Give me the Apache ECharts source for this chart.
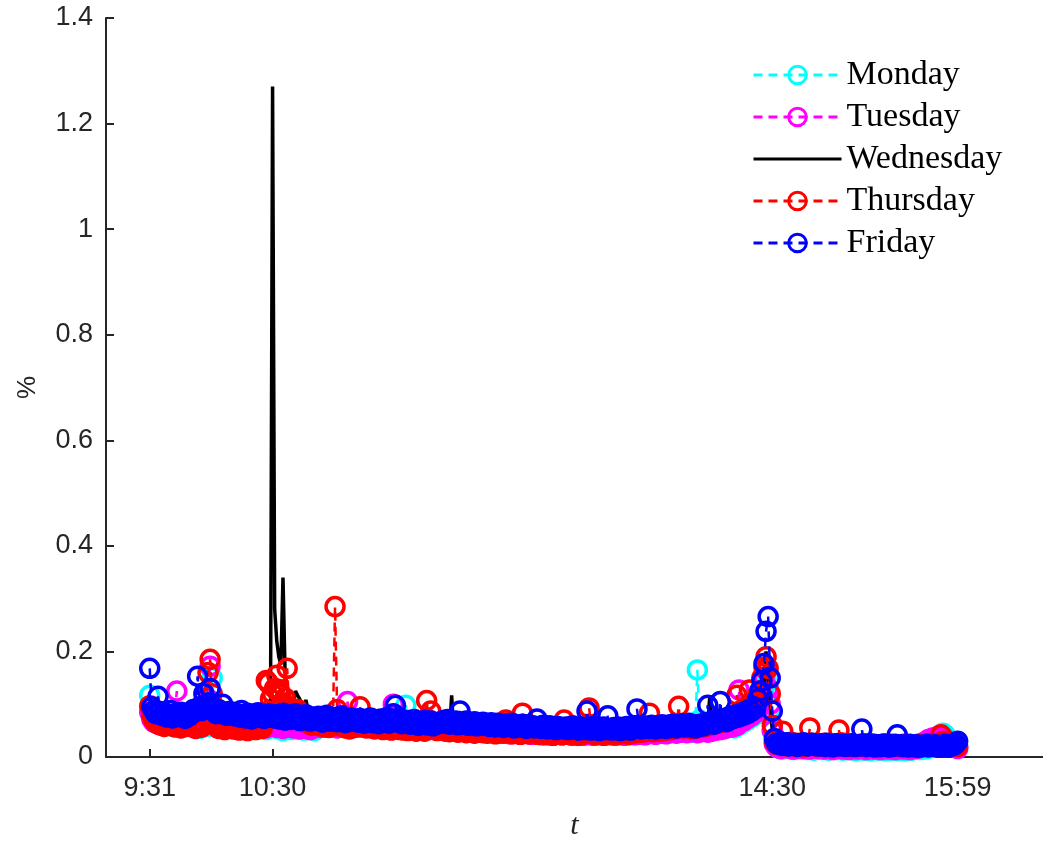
<!DOCTYPE html>
<html>
<head>
<meta charset="utf-8">
<script src="https://cdn.jsdelivr.net/npm/echarts@6/dist/echarts.min.js"></script>
<style>
  html, body { margin: 0; padding: 0; background: #fff; }
  #chart { width: 1043px; height: 846px; }
</style>
</head>
<body>
<div id="chart"></div>
<script>
// one value per minute, 9:31 .. 15:59 (389 points), in units of 0.001 %
const monday = [
  117,80,72,66,70,63,68,74,60,65,71,58,64,69,61,56,66,62,70,59,
  63,57,67,60,54,65,61,69,58,64,150,72,62,57,66,60,55,63,59,67,
  61,56,64,58,53,62,57,65,60,54,63,59,55,61,57,64,52,60,56,62,
  58,54,61,56,50,59,63,55,52,60,57,53,61,56,51,58,54,62,55,50,
  65,61,68,63,57,66,62,59,67,64,60,56,65,61,68,63,58,62,66,59,
  63,57,61,65,58,62,56,64,60,55,63,59,66,61,57,62,58,64,60,56,
  61,58,63,98,70,59,55,61,57,63,58,54,60,56,62,57,53,59,55,61,
  56,52,58,54,60,55,51,57,53,59,54,50,56,52,58,53,49,55,51,57,
  52,48,54,50,56,51,47,53,49,55,50,46,52,48,54,49,45,51,47,53,
  49,45,51,47,53,48,44,50,46,52,47,44,49,45,51,46,44,48,45,50,
  46,44,49,45,51,46,44,48,45,50,45,43,47,44,49,45,43,47,44,48,
  45,43,47,44,49,45,43,48,44,50,46,44,49,45,51,47,44,50,46,52,
  48,45,51,47,53,49,46,52,48,54,50,47,53,49,55,51,48,54,50,56,
  50,47,53,165,70,54,51,57,53,59,55,52,57,53,58,55,53,59,56,62,
  57,55,63,60,68,65,72,70,78,75,82,80,88,95,105,130,150,120,90,50,
  25,20,17,22,15,19,21,16,18,14,20,17,15,19,16,21,14,18,16,13,
  17,15,19,14,18,16,13,17,15,19,14,16,18,13,17,15,14,18,16,12,
  16,14,18,13,17,15,12,16,14,18,13,15,17,12,16,14,13,17,15,12,
  15,13,17,12,16,14,13,17,15,18,14,16,19,15,21,18,24,20,28,32,
  38,45,42,36,30,26,22,20,18
];
const tuesday = [
  85,72,66,74,62,69,64,71,60,67,63,70,82,125,76,65,61,68,58,66,
  62,70,59,67,63,57,65,72,110,172,90,64,60,68,56,63,59,66,61,55,
  64,60,67,57,63,59,66,54,62,58,65,61,56,63,59,68,55,62,58,64,
  60,56,63,58,54,61,57,65,59,55,62,58,53,60,56,63,57,52,59,55,
  65,60,56,63,59,66,61,57,64,60,55,62,58,65,61,105,70,59,56,62,
  60,65,57,62,58,64,59,55,61,57,63,58,54,60,56,62,76,100,66,59,
  56,62,58,54,60,56,63,57,53,59,55,61,56,52,58,54,60,55,51,57,
  53,59,54,50,56,52,58,53,49,55,51,57,52,48,54,50,56,51,47,53,
  49,55,50,46,52,48,54,49,45,51,47,53,48,44,50,46,52,47,43,49,
  46,51,47,43,49,45,50,46,42,48,44,50,45,41,47,43,49,44,42,46,
  43,48,44,41,46,42,47,43,41,45,42,47,43,41,44,42,46,43,41,44,
  42,46,43,41,45,42,47,43,41,46,42,48,44,42,47,43,49,45,42,48,
  45,50,46,43,49,45,51,47,44,50,46,52,48,45,51,47,53,49,46,52,
  48,53,49,46,52,48,54,50,47,53,49,55,51,56,52,58,54,60,56,62,
  57,64,60,127,72,68,76,73,81,78,86,84,92,98,110,150,165,130,100,50,
  25,19,22,16,20,18,23,17,21,15,19,22,17,20,16,18,21,15,19,17,
  20,16,18,22,15,19,17,21,14,18,20,16,19,15,17,21,14,18,16,20,
  15,19,17,21,14,18,16,20,15,17,19,14,18,16,20,15,17,19,14,18,
  16,20,15,17,19,14,18,16,21,17,24,20,28,25,33,30,36,32,38,40,
  34,38,30,27,24,22,20,18,16
];
const wednesday = [
  72,68,75,70,66,73,69,64,71,67,74,65,70,68,63,72,66,69,64,71,
  67,62,70,65,73,68,63,71,66,69,64,72,67,61,68,65,70,63,67,62,
  69,64,66,61,68,63,70,65,62,67,64,69,61,66,63,68,64,62,70,1270,
  280,220,190,175,340,160,130,115,105,98,125,117,110,102,95,108,90,86,93,82,
  88,79,84,76,81,74,79,72,77,70,75,68,73,66,71,64,69,62,67,65,
  63,68,61,66,60,64,58,63,57,62,56,61,55,60,54,59,53,58,55,57,
  54,59,52,57,51,56,50,55,49,54,48,53,50,52,47,51,49,53,48,50,
  52,47,51,46,50,117,48,45,49,44,48,46,43,47,45,49,44,46,42,45,
  47,43,46,41,45,42,46,40,44,41,45,39,43,40,44,38,42,39,43,40,
  42,38,41,37,42,39,43,38,40,36,41,38,42,37,40,36,39,37,41,38,
  40,36,39,35,40,37,41,36,39,35,38,36,40,35,39,37,41,36,38,40,
  37,41,38,42,39,43,40,44,41,45,42,46,43,47,44,48,45,49,46,50,
  47,51,48,52,49,53,50,54,51,55,52,56,53,57,54,58,55,59,56,60,
  57,61,58,62,59,63,60,64,61,117,66,62,67,63,68,65,70,67,72,69,
  74,71,76,73,78,75,80,77,83,80,86,84,90,95,105,130,200,150,100,50,
  22,18,20,17,21,19,16,20,18,22,17,19,21,16,20,18,15,19,17,21,
  18,16,20,17,15,19,17,21,16,18,20,15,19,17,16,20,18,15,19,17,
  16,20,18,15,19,17,21,16,18,15,19,17,20,16,18,15,19,17,16,20,
  17,15,19,16,18,20,17,15,19,16,18,21,17,19,16,20,18,22,19,21,
  18,20,17,22,19,21,18,20,23
];
const thursday = [
  97,78,70,65,73,61,68,58,66,72,60,64,57,69,62,55,67,59,63,71,
  58,65,54,62,68,57,63,75,160,185,120,66,59,54,63,57,52,61,56,64,
  53,60,55,51,58,54,62,50,57,53,59,52,56,61,54,65,145,140,110,120,
  130,155,128,118,100,112,168,95,82,88,76,90,72,80,68,75,64,71,60,67,
  61,68,59,65,57,63,56,61,70,285,90,65,58,62,55,60,53,59,56,63,
  57,95,64,58,55,61,56,59,53,60,55,58,52,57,54,59,51,56,53,58,
  52,56,51,55,50,57,52,54,49,56,51,54,49,107,70,87,58,53,50,55,
  51,54,49,53,48,52,50,54,47,51,49,53,46,50,48,52,45,49,47,51,
  46,50,45,49,47,51,44,48,46,50,45,70,52,47,44,49,46,50,43,83,
  56,48,44,49,46,50,43,47,45,49,42,46,44,48,41,45,43,47,42,70,
  50,44,42,46,43,47,41,45,43,46,49,93,61,44,42,46,43,47,41,45,
  43,47,44,48,42,46,44,49,45,47,43,48,45,50,46,49,47,51,48,52,
  83,52,48,53,49,54,50,55,51,56,52,57,53,58,96,59,55,60,57,62,
  53,58,54,60,56,61,57,63,59,65,61,67,63,69,65,71,68,74,70,77,
  73,80,117,84,88,85,92,96,127,100,95,104,112,125,150,170,190,168,120,60,
  30,24,27,22,49,26,21,25,28,23,20,26,22,25,19,24,21,55,26,22,
  25,20,24,21,26,19,23,22,25,20,24,51,27,21,25,20,23,19,24,22,
  20,24,21,25,19,23,22,20,24,21,18,23,20,25,22,19,24,21,23,20,
  22,19,24,21,20,23,18,22,20,24,21,19,23,20,22,25,21,24,22,26,
  42,30,27,24,22,25,21,23,20
];
const friday = [
  168,95,88,82,115,86,79,84,76,81,88,74,79,83,77,85,80,73,82,78,
  84,90,86,153,95,88,120,92,103,130,96,87,82,90,85,100,83,79,86,81,
  85,78,82,76,88,80,74,83,79,72,81,77,84,75,80,73,78,82,76,79,
  74,80,72,77,83,70,76,79,71,75,82,73,69,77,74,80,71,68,76,73,
  70,77,72,66,74,79,71,68,75,72,67,73,78,70,65,72,69,74,68,71,
  66,73,69,64,71,67,74,65,70,68,63,72,66,69,75,64,70,82,98,72,
  67,63,70,65,68,62,66,71,64,60,67,63,69,61,65,68,59,64,62,66,
  64,69,65,71,62,67,64,68,61,87,66,63,68,60,65,62,67,59,64,61,
  66,60,63,58,65,61,57,64,59,62,56,63,60,58,64,55,61,59,57,62,
  58,54,61,57,59,55,72,58,54,60,56,53,59,55,57,52,58,54,56,53,
  57,52,55,59,53,56,51,57,54,52,87,55,51,58,53,56,50,54,57,52,
  78,54,51,56,53,57,50,55,52,58,54,51,56,59,91,57,53,59,55,58,
  54,60,56,53,59,55,61,57,54,60,56,62,58,55,61,59,63,57,60,64,
  57,61,55,60,58,63,59,65,98,64,68,62,70,66,105,69,73,67,75,71,
  77,74,80,76,83,79,86,82,90,87,95,92,110,125,144,177,238,266,150,87,
  35,26,24,28,22,25,27,21,24,26,23,20,25,22,27,24,21,23,26,22,
  24,21,25,23,20,26,22,24,19,23,25,21,22,24,20,23,21,25,22,20,
  23,21,53,24,20,22,25,21,19,23,22,20,24,21,23,19,22,20,24,42,
  21,23,20,22,19,24,21,20,23,18,22,20,21,24,19,22,20,23,21,19,
  22,20,24,21,19,23,22,25,30
];

const dayNames = ['Monday', 'Tuesday', 'Wednesday', 'Thursday', 'Friday'];
const dayColors = ['#00ffff', '#ff00ff', '#000000', '#ff0000', '#0000ff'];
const dayValues = [monday, tuesday, wednesday, thursday, friday];

// minute index of each labelled tick (9:31 is minute 1)
const tickMinutes = [1, 60, 300, 389];
const tickLabels = ['9:31', '10:30', '14:30', '15:59'];

const axisColor = '#262626';
const chart = echarts.init(document.getElementById('chart'));

const series = dayNames.map((name, k) => {
  const markers = name !== 'Wednesday';
  return {
    name: name,
    type: 'line',
    z: 2 + k,
    data: dayValues[k].map((v, i) => [i + 1, v / 1000]),
    showSymbol: markers,
    symbol: markers ? 'circle' : 'none',
    symbolSize: 18,
    lineStyle: {
      color: dayColors[k],
      width: markers ? 2.5 : 3.5,
      type: markers ? [9, 6] : 'solid'
    },
    itemStyle: { color: 'rgba(0,0,0,0)', borderColor: dayColors[k], borderWidth: 3.5 },
    emphasis: { disabled: true },
    animation: false
  };
});

// legend entries; Wednesday has no marker
const legendData = dayNames.map(name => name === 'Wednesday'
  ? { name: name, itemStyle: { borderColor: 'rgba(0,0,0,0)', borderWidth: 0 } }
  : { name: name });

chart.setOption({
  animation: false,
  grid: { left: 106, right: 0, top: 18, bottom: 87 },
  legend: {
    orient: 'vertical',
    left: 747,
    top: 53,
    itemWidth: 88,
    itemHeight: 22,
    itemGap: 8,
    lineStyle: { width: 3 },
    itemStyle: { borderWidth: 3 },
    textStyle: { fontFamily: 'Liberation Serif', fontSize: 34, lineHeight: 34, color: '#000' },
    data: legendData
  },
  xAxis: {
    type: 'value',
    min: -20,
    max: 430,
    name: 't',
    nameLocation: 'middle',
    nameGap: 54,
    nameTextStyle: { fontFamily: 'Liberation Serif', fontStyle: 'italic', fontSize: 30, color: axisColor },
    axisLine: { onZero: false, lineStyle: { color: axisColor, width: 2 } },
    axisTick: { inside: true, length: 8, customValues: tickMinutes, lineStyle: { color: axisColor, width: 2 } },
    axisLabel: {
      customValues: tickMinutes,
      formatter: v => tickLabels[tickMinutes.indexOf(v)],
      fontFamily: 'Liberation Sans',
      fontSize: 27,
      margin: 18,
      color: axisColor
    },
    splitLine: { show: false }
  },
  yAxis: {
    type: 'value',
    min: 0,
    max: 1.4,
    interval: 0.2,
    name: '%',
    nameLocation: 'middle',
    nameGap: 65,
    nameRotate: 90,
    nameTextStyle: { fontFamily: 'Liberation Sans', fontSize: 26, color: axisColor },
    axisLine: { show: true, onZero: false, lineStyle: { color: axisColor, width: 2 } },
    axisTick: { show: true, inside: true, length: 8, lineStyle: { color: axisColor, width: 2 } },
    axisLabel: { fontFamily: 'Liberation Sans', fontSize: 27, margin: 13, color: axisColor },
    splitLine: { show: false }
  },
  series: series
});
</script>
</body>
</html>
